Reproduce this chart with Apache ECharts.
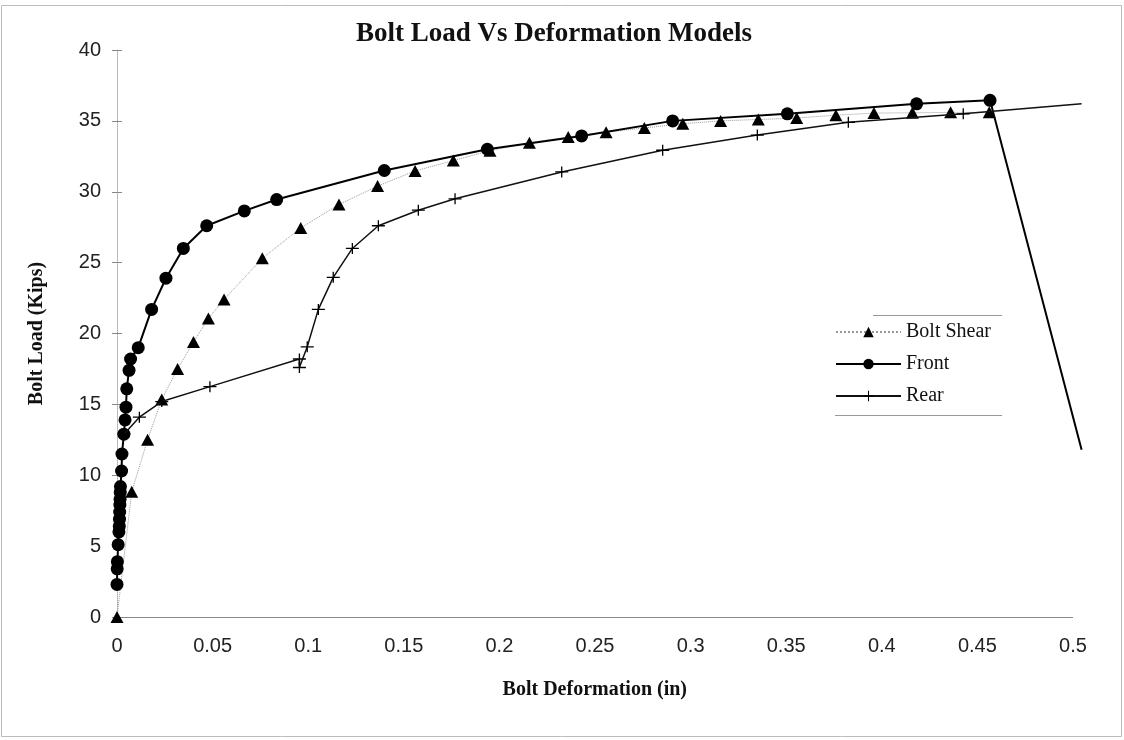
<!DOCTYPE html>
<html>
<head>
<meta charset="utf-8">
<script src="https://cdn.jsdelivr.net/npm/echarts@6/dist/echarts.min.js"></script>
<style>
html,body{margin:0;padding:0;background:#fff;}
#chart{width:1124px;height:740px;}
</style>
</head>
<body>
<div id="chart"></div>
<script>
// ---- data ----
const xTicks = [0, 0.05, 0.1, 0.15, 0.2, 0.25, 0.3, 0.35, 0.4, 0.45, 0.5];
const yTicks = [0, 5, 10, 15, 20, 25, 30, 35, 40];
// the plotted lines run a little past the last labelled tick before being cut off
const plotEdgeX = 0.5045;

const shearX = [0, 0.0077, 0.016, 0.0234, 0.0317, 0.04, 0.0478, 0.056, 0.076, 0.0961, 0.1161, 0.1363, 0.1559, 0.1759, 0.1951, 0.2157, 0.236, 0.2558, 0.2758, 0.2959, 0.3157, 0.3354, 0.3555, 0.376, 0.3959, 0.416, 0.436, 0.4562];
const shearY = [0, 8.84, 12.5, 15.35, 17.5, 19.4, 21.06, 22.4, 25.3, 27.45, 29.1, 30.4, 31.47, 32.2, 32.9, 33.45, 33.87, 34.2, 34.5, 34.8, 35.0, 35.1, 35.2, 35.4, 35.55, 35.57, 35.6, 35.6];

const frontX = [0.0000, 0.0001, 0.0002, 0.0006, 0.0010, 0.0012, 0.0013, 0.0014, 0.0015, 0.0016, 0.0017, 0.0018, 0.0024, 0.0026, 0.0036, 0.0042, 0.0047, 0.0051, 0.0063, 0.0071, 0.0111, 0.0181, 0.0256, 0.0347, 0.0469, 0.0666, 0.0835, 0.1398, 0.1937, 0.2430, 0.2906, 0.3506, 0.4182, 0.4566, 0.5045];
const frontY = [2.3, 3.4, 3.9, 5.1, 6.0, 6.4, 6.9, 7.4, 7.9, 8.3, 8.8, 9.2, 10.3, 11.5, 12.9, 13.9, 14.8, 16.1, 17.4, 18.2, 19.0, 21.7, 23.9, 26.0, 27.6, 28.65, 29.45, 31.5, 33.0, 33.94, 35.0, 35.5, 36.2, 36.45, 11.8];

const rearX = [0.0036, 0.0117, 0.0234, 0.0486, 0.0954, 0.0954, 0.0995, 0.1053, 0.1131, 0.1231, 0.1367, 0.1576, 0.1768, 0.2326, 0.2854, 0.3349, 0.3825, 0.4426, 0.5045];
const rearY = [12.9, 14.1, 15.2, 16.25, 18.2, 17.6, 19.06, 21.7, 23.96, 26.0, 27.6, 28.7, 29.5, 31.4, 32.93, 34.0, 34.9, 35.5, 36.2];

const seriesNames = ['Bolt Shear', 'Front', 'Rear'];
const titleText = 'Bolt Load Vs Deformation Models';
const xName = 'Bolt Deformation (in)';
const yName = 'Bolt Load (Kips)';

// ---- build ----
const xMax = xTicks[xTicks.length - 1];
function pts(xs, ys) {
  return xs.map((x, i) => x > xMax ? { value: [x, ys[i]], symbol: 'none' } : [x, ys[i]]);
}
const crossPath = 'path://M0,4.4H12V5.6H0Z M5.4,0H6.6V10H5.4Z';

const chart = echarts.init(document.getElementById('chart'), null, { renderer: 'canvas' });
chart.setOption({
  animation: false,
  backgroundColor: '#fff',
  title: {
    text: titleText, left: 549, top: 16, textAlign: 'center',
    textStyle: { fontFamily: 'Liberation Serif', fontWeight: 'bold', fontSize: 27, color: '#111' }
  },
  grid: { left: 117, right: 42.4, top: 50, bottom: 123, containLabel: false },
  xAxis: {
    type: 'value', min: xTicks[0], max: plotEdgeX, interval: xTicks[1] - xTicks[0],
    name: xName, nameLocation: 'middle', nameGap: 63,
    nameTextStyle: { fontFamily: 'Liberation Serif', fontWeight: 'bold', fontSize: 20, color: '#111', padding: [0, 9, 0, 0] },
    axisLine: { show: false },
    axisTick: { show: false },
    splitLine: { show: false },
    axisLabel: { margin: 19, fontFamily: 'Liberation Sans', fontSize: 20, color: '#222', showMaxLabel: false }
  },
  yAxis: [{
    type: 'value', min: yTicks[0], max: yTicks[yTicks.length - 1], interval: yTicks[1] - yTicks[0],
    name: yName, nameLocation: 'middle', nameGap: 70, nameRotate: 90,
    nameTextStyle: { fontFamily: 'Liberation Serif', fontWeight: 'bold', fontSize: 20, color: '#111' },
    axisLine: { show: true, lineStyle: { color: '#aaa', width: 1, type: 'dotted' } },
    axisTick: { show: true, length: 5, lineStyle: { color: '#888' } },
    splitLine: { show: false },
    axisLabel: { margin: 16, fontFamily: 'Liberation Sans', fontSize: 20, color: '#222' }
  }, {
    type: 'value', position: 'left', offset: 0,
    min: yTicks[0], max: yTicks[yTicks.length - 1], interval: yTicks[1] - yTicks[0],
    axisLine: { show: false },
    axisTick: { show: true, inside: true, length: 5, lineStyle: { color: '#888' } },
    axisLabel: { show: false },
    splitLine: { show: false }
  }],
  legend: {
    orient: 'vertical', left: 835, top: 322, padding: 0,
    itemWidth: 65, itemHeight: 13, itemGap: 12,
    data: seriesNames,
    textStyle: { fontFamily: 'Liberation Serif', fontSize: 20, color: '#111' }
  },
  graphic: [
    { type: 'rect', silent: true, shape: { x: 1.5, y: 5.5, width: 1120, height: 731 },
      style: { fill: 'none', stroke: '#bbb', lineWidth: 1 } },
    { type: 'line', silent: true, shape: { x1: 873, y1: 315.5, x2: 1002, y2: 315.5 },
      style: { stroke: '#999', lineWidth: 1 } },
    { type: 'line', silent: true, shape: { x1: 835, y1: 415.5, x2: 1002, y2: 415.5 },
      style: { stroke: '#999', lineWidth: 1 } }
  ],
  series: [
    {
      name: seriesNames[0], type: 'line', data: pts(shearX, shearY), clip: false,
      symbol: 'triangle', symbolSize: [13, 12],
      itemStyle: { color: '#000' },
      lineStyle: { color: '#999', width: 1, type: 'dotted' },
      z: 2,
      markLine: {
        silent: true, symbol: 'none', label: { show: false },
        lineStyle: { color: '#888', width: 1, type: 'solid' },
        data: [[{ coord: [xTicks[0], yTicks[0]] }, { coord: [xMax, yTicks[0]] }]],
        z: 1
      }
    },
    {
      name: seriesNames[1], type: 'line', data: pts(frontX, frontY), clip: true,
      symbol: 'circle', symbolSize: 13,
      itemStyle: { color: '#000' },
      lineStyle: { color: '#000', width: 2 },
      z: 3
    },
    {
      name: seriesNames[2], type: 'line', data: pts(rearX, rearY), clip: true,
      symbol: crossPath, symbolSize: [13, 11],
      itemStyle: { color: '#000' },
      lineStyle: { color: '#111', width: 1.5 },
      z: 4
    }
  ]
});
</script>
</body>
</html>
